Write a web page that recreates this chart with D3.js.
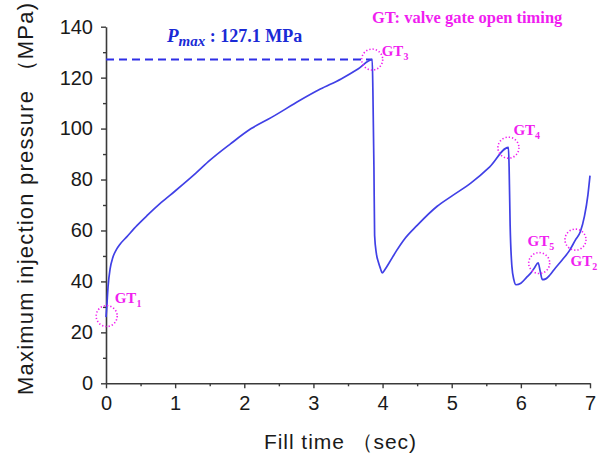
<!DOCTYPE html>
<html>
<head>
<meta charset="utf-8">
<script src="https://cdn.jsdelivr.net/npm/d3@7"></script>
<style>
  body { margin: 0; background: #fff; }
  svg { display: block; }
</style>
</head>
<body>
<div id="chart"></div>
<script>
// fill time (sec) vs max injection pressure (MPa)
const fillTime = [0.0, 0.01, 0.03, 0.06, 0.1, 0.15, 0.2, 0.3, 0.45, 0.6, 0.8, 1.0, 1.3, 1.5, 1.8, 2.1, 2.4, 2.8, 3.1, 3.4, 3.65, 3.85,
                  3.86, 3.875, 3.885, 3.91, 3.94, 3.97, 3.995, 4.03, 4.1, 4.2, 4.31, 4.5, 4.79, 5.0, 5.28, 5.55, 5.82,
                  5.83, 5.845, 5.87, 5.9, 5.93, 6.0, 6.08, 6.15, 6.2, 6.25, 6.28, 6.31, 6.36, 6.42, 6.48, 6.6, 6.7, 6.79, 6.86, 6.92, 6.97, 7.0];
const pressure = [26, 29.5, 38, 45, 49.5, 52.5, 54.5, 57.5, 62, 66, 71, 75.5, 82.5, 87.5, 94, 100, 104.5, 111, 115.5, 119.5, 123.5, 127.1,
                  115, 85, 58, 51, 47.5, 45, 43.3, 44.5, 47.5, 52, 56.4, 62, 69.5, 73.5, 78.7, 85, 92.6,
                  85, 62, 46, 40.5, 38.7, 39.3, 41.5, 43.5, 45.5, 47.3, 44, 40.7, 41, 42.5, 44.6, 48.5, 52, 56.3, 59.5, 65.6, 74, 81.5];

const xTicks = [0, 1, 2, 3, 4, 5, 6, 7];
const xMinor = [0.5, 1.5, 2.5, 3.5, 4.5, 5.5, 6.5];
const yTicks = [0, 20, 40, 60, 80, 100, 120, 140];
const yMinor = [10, 30, 50, 70, 90, 110, 130];

// gate open timings (GT_n)
const gtIndex = ['1', '3', '4', '5', '2'];
const gtTime = [0.01, 3.85, 5.82, 6.265, 6.79];
const gtPressure = [26.4, 127.1, 92.5, 47.2, 56.4];

const pMax = 127.1;
const pMaxTime = 3.85;

const width = 599, height = 454;
const svg = d3.select('#chart').append('svg')
  .attr('width', width).attr('height', height);

const x = d3.scaleLinear().domain([0, 7]).range([106, 590]);
const y = d3.scaleLinear().domain([0, 140]).range([383.3, 26.7]);

const axisColor = '#3a3a3a';
const tickFont = 'Liberation Sans, Arial, sans-serif';

// x axis
const gx = svg.append('g').attr('transform', `translate(0,${y(0)})`);
gx.call(d3.axisBottom(x).tickValues(xTicks).tickFormat(d3.format('d')).tickSize(5).tickSizeOuter(0).tickPadding(6));
gx.append('g').call(d3.axisBottom(x).tickValues(xMinor).tickSize(3).tickFormat(''))
  .select('.domain').remove();

// y axis
const gy = svg.append('g').attr('transform', `translate(${x(0)},0)`);
gy.call(d3.axisLeft(y).tickValues(yTicks).tickFormat(d3.format('d')).tickSize(5).tickSizeOuter(0).tickPadding(8));
gy.append('g').call(d3.axisLeft(y).tickValues(yMinor).tickSize(3).tickFormat(''))
  .select('.domain').remove();

svg.selectAll('.domain').attr('stroke', axisColor).attr('stroke-width', 1.6);
svg.selectAll('.tick line').attr('stroke', axisColor).attr('stroke-width', 1.4);
svg.selectAll('.tick text')
  .attr('font-family', tickFont).attr('font-size', 20).attr('fill', '#1a1a1a');
gx.selectAll('.tick text').attr('dy', '0.8em');

// axis titles
svg.append('text')
  .attr('transform', `translate(33,199) rotate(-90)`)
  .attr('text-anchor', 'middle')
  .attr('font-family', tickFont).attr('font-size', 22).attr('fill', '#1a1a1a')
  .attr('textLength', 392).attr('lengthAdjust', 'spacing')
  .text('Maximum injection pressure （MPa)');

svg.append('text')
  .attr('x', 340).attr('y', 449)
  .attr('text-anchor', 'middle')
  .attr('font-family', tickFont).attr('font-size', 21).attr('fill', '#1a1a1a')
  .attr('textLength', 152).attr('lengthAdjust', 'spacing')
  .text('Fill time （sec)');

// Pmax dashed line
svg.append('line')
  .attr('x1', x(0)).attr('x2', x(pMaxTime))
  .attr('y1', y(pMax)).attr('y2', y(pMax))
  .attr('stroke', '#2e2ee6').attr('stroke-width', 2)
  .attr('stroke-dasharray', '8,5');

// pressure curve
const line = d3.line().x((d, i) => x(fillTime[i])).y(d => y(d)).curve(d3.curveMonotoneX);
svg.append('path')
  .datum(pressure)
  .attr('d', line)
  .attr('fill', 'none')
  .attr('stroke', '#4040e6')
  .attr('stroke-width', 1.7)
  .attr('stroke-linejoin', 'round');

// GT circles + labels
const magenta = '#f01ef0';
const serif = 'Liberation Serif, Times New Roman, serif';
const labelOff = [[8, -13], [9.5, -4], [5, -13], [-11.6, -16.7], [-5, 26]]; // label offset from circle centre

gtIndex.forEach((g, i) => {
  const cx = x(gtTime[i]), cy = y(gtPressure[i]);
  svg.append('circle')
    .attr('cx', cx).attr('cy', cy).attr('r', 10.5)
    .attr('fill', 'none').attr('stroke', magenta)
    .attr('stroke-width', 1.6).attr('stroke-dasharray', '1.3,2');
  const t = svg.append('text')
    .attr('x', cx + labelOff[i][0]).attr('y', cy + labelOff[i][1])
    .attr('font-family', serif).attr('font-weight', 'bold')
    .attr('font-size', 15).attr('fill', magenta);
  t.append('tspan').text('GT');
  t.append('tspan').attr('font-size', 10).attr('dy', 4).text(g);
});

svg.append('text')
  .attr('x', 372).attr('y', 23)
  .attr('font-family', serif).attr('font-weight', 'bold')
  .attr('font-size', 16.5).attr('fill', magenta)
  .text('GT:  valve gate open timing');

// Pmax label
const pt = svg.append('text')
  .attr('x', 167).attr('y', 42)
  .attr('font-family', serif).attr('font-weight', 'bold')
  .attr('font-size', 18).attr('fill', '#1a2ad6');
pt.append('tspan').attr('font-style', 'italic').attr('font-size', 19).text('P');
pt.append('tspan').attr('font-style', 'italic').attr('font-size', 15).attr('dy', 4).text('max');
pt.append('tspan').attr('dy', -4).text(' : 127.1 MPa');
</script>
</body>
</html>
